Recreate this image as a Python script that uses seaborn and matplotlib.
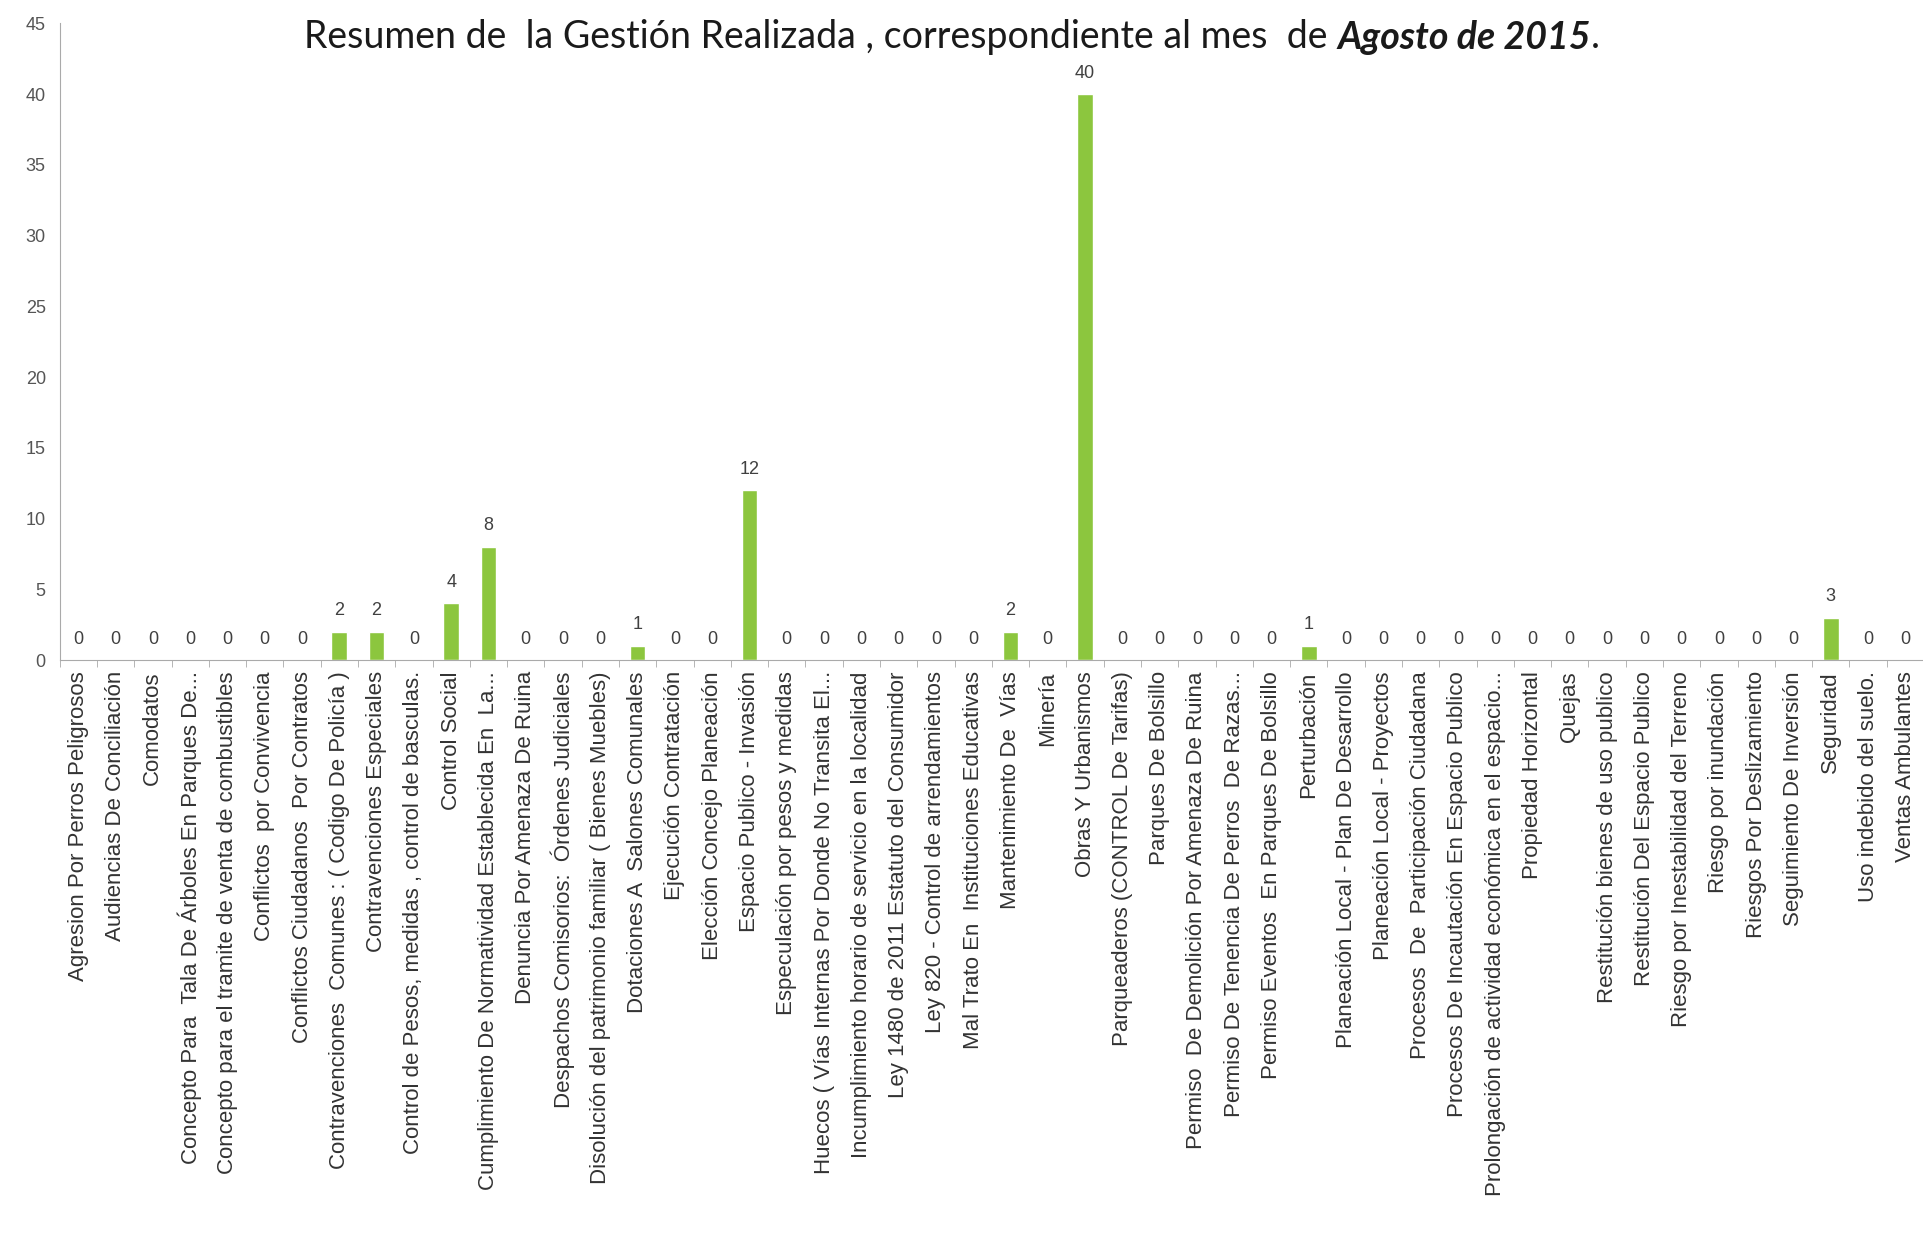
import numpy as np
import pandas as pd
import seaborn as sns
import matplotlib
matplotlib.use('Agg')
from matplotlib import pyplot as plt

# categorias y valores del mes
categorias = [
    'Agresion Por Perros Peligrosos',
    'Audiencias De Conciliación',
    'Comodatos',
    'Concepto Para  Tala De Árboles En Parques De...',
    'Concepto para el tramite de venta de combustibles',
    'Conflictos  por Convivencia',
    'Conflictos Ciudadanos  Por Contratos',
    'Contravenciones  Comunes : ( Codigo De Policía )',
    'Contravenciones Especiales',
    'Control de Pesos, medidas , control de basculas.',
    'Control Social',
    'Cumplimiento De Normatividad Establecida En  La...',
    'Denuncia Por Amenaza De Ruina',
    'Despachos Comisorios:  Órdenes Judiciales',
    'Disolución del patrimonio familiar ( Bienes Muebles)',
    'Dotaciones A  Salones Comunales',
    'Ejecución Contratación',
    'Elección Concejo Planeación',
    'Espacio Publico - Invasión',
    'Especulación por pesos y medidas',
    'Huecos ( Vías Internas Por Donde No Transita El...',
    'Incumplimiento horario de servicio en la localidad',
    'Ley 1480 de 2011 Estatuto del Consumidor',
    'Ley 820 - Control de arrendamientos',
    'Mal Trato En  Instituciones Educativas',
    'Mantenimiento De  Vías',
    'Minería',
    'Obras Y Urbanismos',
    'Parqueaderos (CONTROL De Tarifas)',
    'Parques De Bolsillo',
    'Permiso  De Demolición Por Amenaza De Ruina',
    'Permiso De Tenencia De Perros  De Razas...',
    'Permiso Eventos  En Parques De Bolsillo',
    'Perturbación',
    'Planeación Local - Plan De Desarrollo',
    'Planeación Local - Proyectos',
    'Procesos  De  Participación Ciudadana',
    'Procesos De Incautación En Espacio Publico',
    'Prolongación de actividad económica en el espacio...',
    'Propiedad Horizontal',
    'Quejas',
    'Restitución bienes de uso publico',
    'Restitución Del Espacio Publico',
    'Riesgo por Inestabilidad del Terreno',
    'Riesgo por inundación',
    'Riesgos Por Deslizamiento',
    'Seguimiento De Inversión',
    'Seguridad',
    'Uso indebido del suelo.',
    'Ventas Ambulantes',
]
valores = [0, 0, 0, 0, 0, 0, 0, 2, 2, 0,
           4, 8, 0, 0, 0, 1, 0, 0, 12, 0,
           0, 0, 0, 0, 0, 2, 0, 40, 0, 0,
           0, 0, 0, 1, 0, 0, 0, 0, 0, 0,
           0, 0, 0, 0, 0, 0, 0, 3, 0, 0]
ticks_y = list(range(0, 50, 5))

df = pd.DataFrame({'categoria': categorias, 'valor': valores})

sns.set_style('white')
plt.rcParams['font.family'] = ['Liberation Sans', 'DejaVu Sans']

fig = plt.figure(figsize=(19.24, 12.36), dpi=100)
ax = fig.add_axes([0.031, 0.466, 0.969, 0.515])

sns.barplot(data=df, x='categoria', y='valor', color='#8cc63e',
            width=0.42, saturation=1, ax=ax)

# etiquetas de valor
ax.bar_label(ax.containers[0], fmt='%d', padding=9, fontsize=13,
             color='#404040')

ax.set_xlim(-0.5, len(categorias) - 0.5)
ax.set_ylim(0, 45)
ax.set_yticks(ticks_y)
ax.set_xlabel('')
ax.set_ylabel('')
ax.tick_params(axis='y', labelsize=13, colors='#555555', length=4,
               color='#aaaaaa', pad=6)
ax.set_xticks(range(len(categorias)))
ax.set_xticklabels(categorias, rotation=90, fontsize=16, color='#333333')
ax.tick_params(axis='x', which='major', length=0, pad=8)
# marcas entre categorias, estilo excel
ax.set_xticks(np.arange(-0.5, len(categorias), 1), minor=True)
ax.tick_params(axis='x', which='minor', length=5, color='#aaaaaa',
               direction='out', bottom=True)

for s in ['top', 'right']:
    ax.spines[s].set_visible(False)
ax.spines['left'].set_color('#aaaaaa')
ax.spines['bottom'].set_color('#aaaaaa')

# titulo con parte en negrita cursiva
t1 = fig.text(0.158, 0.970, 'Resumen de  la Gestión Realizada , correspondiente al mes  de ',
              fontsize=27, family=['Lato', 'DejaVu Sans'], color='#1a1a1a',
              va='center', ha='left')
t2 = ax.annotate('Agosto de 2015', xy=(1, 0), xycoords=t1, va='bottom', ha='left',
                 fontsize=27, family=['Lato', 'DejaVu Sans'], fontweight='bold',
                 fontstyle='italic', color='#1a1a1a')
ax.annotate('.', xy=(1, 0), xycoords=t2, va='bottom', ha='left',
            fontsize=27, family=['Lato', 'DejaVu Sans'], color='#1a1a1a')

fig.savefig('out.png', dpi=100)
